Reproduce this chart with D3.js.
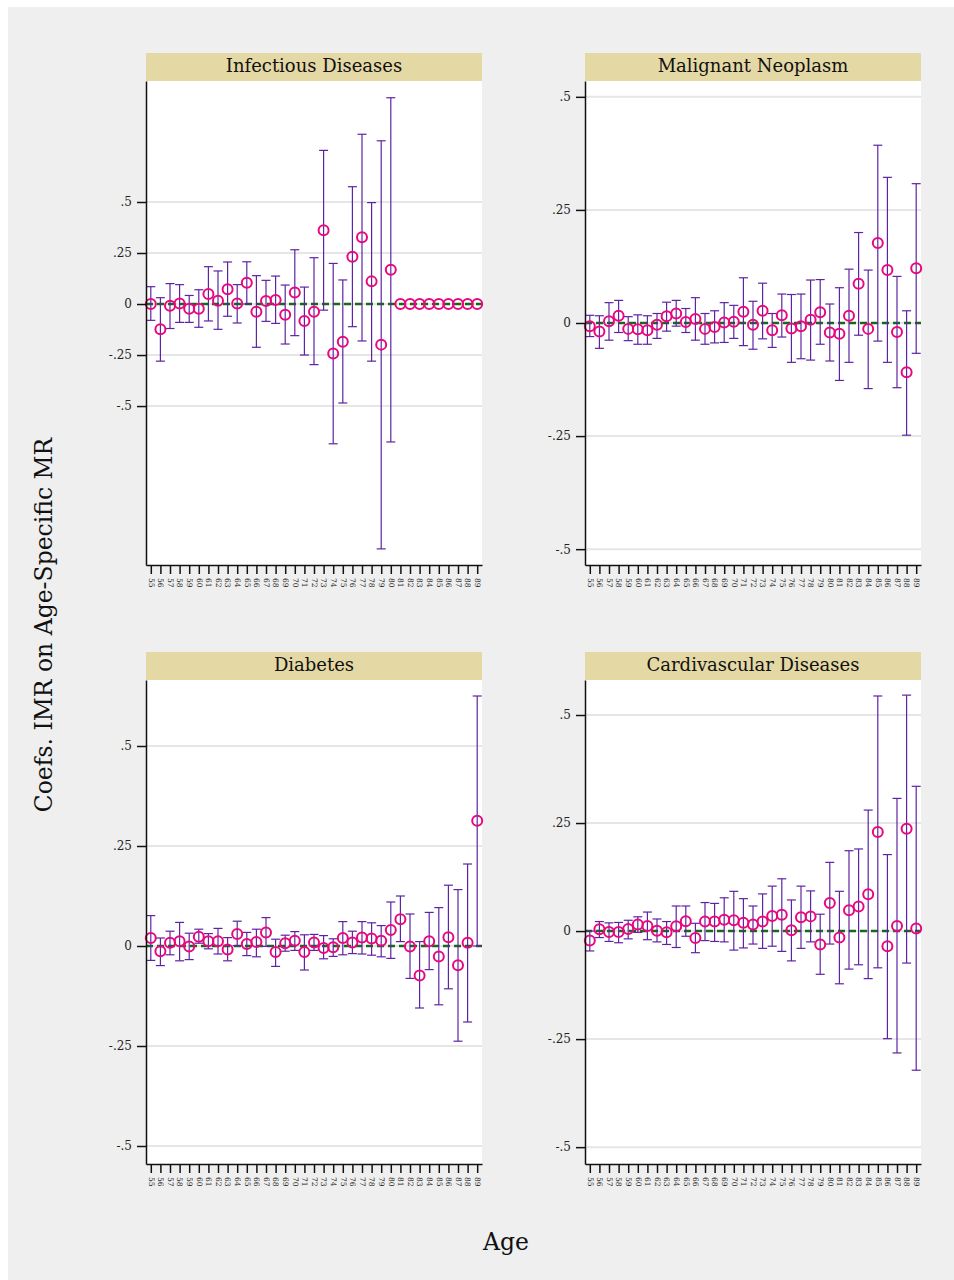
<!DOCTYPE html>
<html>
<head>
<meta charset="utf-8">
<script src="https://cdn.jsdelivr.net/npm/d3@7"></script>
<style>
  body { margin: 0; background: #fff; }
  svg { display: block; }
</style>
</head>
<body>
<div id="chart"></div>
<script>
let ages = d3.range(55, 90);
let yTicks = [-.5, -.25, 0, .25, .5];

// Infectious Diseases (ages 81-89 have no interval)
let infCoef = [0, -.124, -.008, .003, -.023, -.023, .049, .016, .072, .002, .104, -.038, .015, .02, -.052, .056, -.083, -.038,
  .361, -.242, -.185, .232, .327, .111, -.199, .168, 0, 0, 0, 0, 0, 0, 0, 0, 0];
let infLo = [-.08, -.28, -.12, -.09, -.09, -.114, -.083, -.124, -.06, -.093, 0, -.212, -.085, -.095, -.196, -.155, -.25, -.297,
  -.03, -.685, -.485, -.111, -.181, -.28, -1.2, -.676, null, null, null, null, null, null, null, null, null];
let infHi = [.085, .031, .10, .095, .042, .07, .183, .162, .206, .095, .207, .139, .116, .137, .093, .266, .083, .227,
  .753, .199, .118, .575, .832, .497, .80, 1.011, null, null, null, null, null, null, null, null, null];

// Malignant Neoplasm
let malCoef = [-.007, -.019, .004, .016, -.013, -.014, -.016, -.004, .015, .021, .002, .009, -.013, -.009, .001, .003, .025, -.004,
  .027, -.016, .017, -.012, -.007, .007, .024, -.021, -.024, .016, .087, -.013, .177, .117, -.02, -.109, .121];
let malLo = [-.03, -.056, -.038, -.021, -.039, -.047, -.047, -.034, -.018, -.007, -.021, -.038, -.047, -.044, -.043, -.034, -.05, -.058,
  -.035, -.054, -.031, -.087, -.079, -.082, -.047, -.084, -.127, -.087, -.027, -.145, -.04, -.087, -.143, -.248, -.067];
let malHi = [.017, .016, .045, .05, .014, .018, .016, .021, .046, .05, .032, .056, .021, .027, .045, .039, .10, .048,
  .088, .021, .064, .063, .064, .095, .096, .042, .078, .119, .20, .117, .393, .322, .103, .027, .308];

// Diabetes
let diaCoef = [.02, -.013, .008, .012, -.001, .023, .012, .012, -.009, .03, .005, .01, .034, -.015, .007, .013, -.015, .009,
  -.005, -.003, .02, .009, .021, .019, .013, .04, .067, -.001, -.074, .012, -.026, .022, -.048, .008, .313];
let diaLo = [-.036, -.049, -.022, -.037, -.034, .007, -.007, -.02, -.037, .001, -.024, -.027, -.001, -.051, -.013, -.011, -.06, -.011,
  -.032, -.026, -.022, -.019, -.02, -.023, -.027, -.031, .011, -.081, -.155, -.059, -.147, -.107, -.238, -.19, 0];
let diaHi = [.076, .02, .037, .059, .032, .042, .031, .044, .021, .062, .034, .042, .071, .017, .027, .036, .028, .029,
  .026, .018, .061, .037, .061, .058, .051, .11, .125, .08, .011, .084, .096, .152, .141, .205, .625];

// Cardivascular Diseases
let carCoef = [-.022, .004, -.002, -.002, .005, .015, .012, .001, -.003, .011, .023, -.016, .022, .022, .026, .025, .019, .015,
  .022, .035, .038, .002, .032, .034, -.031, .065, -.015, .048, .057, .085, .229, -.035, .012, .237, .006];
let carLo = [-.046, -.015, -.024, -.027, -.018, -.003, -.02, -.025, -.031, -.038, -.012, -.05, -.022, -.024, -.025, -.044, -.039, -.03,
  -.04, -.035, -.047, -.069, -.04, -.025, -.10, -.03, -.122, -.088, -.078, -.11, -.085, -.249, -.282, -.074, -.322];
let carHi = [0, .022, .019, .02, .025, .033, .044, .028, .022, .058, .058, .018, .066, .064, .077, .092, .075, .058,
  .086, .104, .121, .072, .104, .093, .039, .159, .092, .186, .19, .28, .544, .177, .307, .546, .335];

let panels = [
  {title: "Infectious Diseases", coef: infCoef, lo: infLo, hi: infHi, x0: 146, top: 53, dom: [-1.279, 1.093]},
  {title: "Malignant Neoplasm", coef: malCoef, lo: malLo, hi: malHi, x0: 585, top: 53, dom: [-.535, .535]},
  {title: "Diabetes", coef: diaCoef, lo: diaLo, hi: diaHi, x0: 146, top: 652, dom: [-.545, .665]},
  {title: "Cardivascular Diseases", coef: carCoef, lo: carLo, hi: carHi, x0: 585, top: 652, dom: [-.539, .581]}
];

let W = 954, H = 1280;
let pw = 336, titleH = 28, ph = 484;
let font = "'DejaVu Serif', serif";

var svg = d3.select("#chart").append("svg")
    .attr("width", W)
    .attr("height", H);

svg.append("rect")
    .attr("x", 8).attr("y", 7)
    .attr("width", W - 8).attr("height", H - 7)
    .attr("fill", "#efefef");

// Stata-style labels: no leading zero, plain hyphen
function fmt(v) {
  if (v === 0) return "0";
  return String(v).replace("0.", ".");
}

panels.forEach(function(p) {
  let g = svg.append("g").attr("transform", "translate(" + p.x0 + "," + p.top + ")");

  // title bar
  g.append("rect")
      .attr("width", pw).attr("height", titleH)
      .attr("fill", "#e4d8a5");
  g.append("text")
      .attr("x", pw / 2).attr("y", 19)
      .attr("text-anchor", "middle")
      .style("font", "18px " + font)
      .attr("fill", "#111")
      .text(p.title);

  let plot = g.append("g").attr("transform", "translate(0," + titleH + ")");
  plot.append("rect").attr("width", pw).attr("height", ph).attr("fill", "#fff");

  let x = d3.scaleLinear().domain([54.5, 89.5]).range([0, pw]);
  let y = d3.scaleLinear().domain(p.dom).range([ph, 0]);

  // gridlines
  plot.selectAll(".grid").data(yTicks).join("line")
      .attr("x1", 0).attr("x2", pw)
      .attr("y1", d => y(d)).attr("y2", d => y(d))
      .attr("stroke", "#e6e6e6").attr("stroke-width", 2);

  // zero reference
  plot.append("line")
      .attr("x1", 0).attr("x2", pw)
      .attr("y1", y(0)).attr("y2", y(0))
      .attr("stroke", "#176817").attr("stroke-width", 2.5)
      .attr("stroke-dasharray", "7,4");

  // error bars
  let rows = ages.map((a, i) => ({age: a, c: p.coef[i], lo: p.lo[i], hi: p.hi[i]}))
  let ci = rows.filter(d => d.lo !== null);
  let bars = plot.append("g")
      .attr("stroke", "#5e23a3").attr("stroke-width", 1.2).attr("fill", "none");
  bars.selectAll(".v").data(ci).join("line")
      .attr("x1", d => x(d.age)).attr("x2", d => x(d.age))
      .attr("y1", d => y(d.lo)).attr("y2", d => y(d.hi));
  bars.selectAll(".t").data(ci).join("line")
      .attr("x1", d => x(d.age) - 4.5).attr("x2", d => x(d.age) + 4.5)
      .attr("y1", d => y(d.hi)).attr("y2", d => y(d.hi));
  bars.selectAll(".b").data(ci).join("line")
      .attr("x1", d => x(d.age) - 4.5).attr("x2", d => x(d.age) + 4.5)
      .attr("y1", d => y(d.lo)).attr("y2", d => y(d.lo));

  // points
  plot.selectAll("circle").data(rows).join("circle")
      .attr("cx", d => x(d.age)).attr("cy", d => y(d.c))
      .attr("r", 5)
      .attr("fill", "none")
      .attr("stroke", "#e8077f").attr("stroke-width", 2);

  // axes
  let ya = plot.append("g")
      .call(d3.axisLeft(y).tickValues(yTicks).tickFormat(fmt).tickSize(9).tickSizeOuter(0).tickPadding(5));
  ya.selectAll("path,line").attr("stroke", "#111").attr("stroke-width", 1.5);
  ya.selectAll("text").style("font", "12px " + font).attr("fill", "#222");

  let xa = plot.append("g")
      .attr("transform", "translate(0," + ph + ")")
      .call(d3.axisBottom(x).tickValues(ages).tickFormat(d3.format("d")).tickSize(9).tickSizeOuter(0));
  xa.selectAll("path,line").attr("stroke", "#111").attr("stroke-width", 1.5);
  xa.selectAll("text")
      .style("font", "7.5px " + font)
      .attr("fill", "#222")
      .attr("transform", "rotate(90)")
      .attr("x", 13).attr("y", 0).attr("dy", "0.35em")
      .style("text-anchor", "start");
});

svg.append("text")
    .attr("transform", "translate(52,625) rotate(-90)")
    .attr("text-anchor", "middle")
    .style("font", "23.5px " + font)
    .attr("fill", "#111")
    .text("Coefs. IMR on Age-Specific MR");

svg.append("text")
    .attr("x", 506).attr("y", 1250)
    .attr("text-anchor", "middle")
    .style("font", "23.5px " + font)
    .attr("fill", "#111")
    .text("Age");
</script>
</body>
</html>
